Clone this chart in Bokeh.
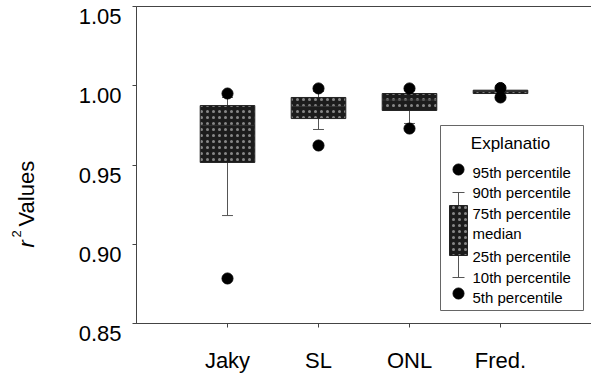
import math
from bokeh.plotting import figure
from bokeh.models import (FixedTicker, Label, ColumnDataSource, Range1d, LinearAxis,
                          CustomJSTickFormatter)
from bokeh.core.properties import value
from bokeh.embed import file_html
from bokeh.resources import INLINE

# ---------------- data ----------------
categories = ["Jaky", "SL", "ONL", "Fred."]
p5  = [0.8784, 0.9623, 0.9730, 0.9926]
p10 = [0.9181, 0.9724, 0.9762, 0.9940]
q1  = [0.9516, 0.9793, 0.9844, 0.9951]
med = [0.9750, 0.9870, 0.9910, 0.9965]
q3  = [0.9875, 0.9926, 0.9951, 0.9972]
p90 = [0.9926, 0.9965, 0.9970, 0.9980]
p95 = [0.9951, 0.9983, 0.9983, 0.9986]
y_ticks = [0.85, 0.90, 0.95, 1.00, 1.05]
y_tick_labels = ["0.85", "0.90", "0.95", "1.00", "1.05"]
legend_title = "Explanatio"
legend_labels = ["95th percentile", "90th percentile", "75th percentile", "median",
                 "25th percentile", "10th percentile", "5th percentile"]

# ---------------- geometry ----------------
FONT = "Liberation Sans"
W, H = 591, 378
LEFT, TOP, PW, PH = 136, 6, 455, 317      # plotting area in pixels
X0, X1 = 0.0, 5.0
Y0, Y1 = 0.85, 1.05

def px2x(px):
    return X0 + (px - LEFT) / PW * (X1 - X0)

def py2y(py):
    return Y1 - (py - TOP) / PH * (Y1 - Y0)

D = 10 / PH * (Y1 - Y0)   # tick labels sit ~10 px below their ticks in the reference

xs = list(range(1, len(categories) + 1))

p = figure(width=W, height=H, x_range=Range1d(px2x(0), px2x(W)),
           y_range=Range1d(py2y(H), py2y(0)),
           x_axis_type=None, y_axis_type=None,
           output_backend="svg", toolbar_location=None, min_border=0)
p.extra_y_ranges = {"lab": Range1d(py2y(H) + D, py2y(0) + D)}
p.grid.visible = False
p.outline_line_color = None
p.background_fill_color = "white"
p.border_fill_color = "white"

AX = "#444444"
# y axis: line + ticks
yax = LinearAxis(fixed_location=X0, ticker=FixedTicker(ticks=y_ticks), bounds=(Y0, Y1),
                 formatter=CustomJSTickFormatter(code="return ''"),
                 major_tick_out=4, major_tick_in=0, minor_tick_line_color=None,
                 axis_line_color=AX, major_tick_line_color=AX)
p.add_layout(yax, "left")
# y axis: labels
ylab = LinearAxis(fixed_location=X0, y_range_name="lab", ticker=FixedTicker(ticks=y_ticks),
                  major_label_overrides={t: s for t, s in zip(y_ticks, y_tick_labels)},
                  major_tick_out=0, major_tick_in=0, major_tick_line_color=None,
                  minor_tick_line_color=None, axis_line_color=None,
                  major_label_standoff=15, major_label_text_font=FONT,
                  major_label_text_font_size="22px", major_label_text_color="black")
p.add_layout(ylab, "left")
# x axis
xax = LinearAxis(fixed_location=Y0, ticker=FixedTicker(ticks=xs), bounds=(X0, X1),
                 major_label_overrides={x: c for x, c in zip(xs, categories)},
                 major_tick_out=4, major_tick_in=0, minor_tick_line_color=None,
                 axis_line_color=AX, major_tick_line_color=AX,
                 major_label_standoff=20, major_label_text_font=FONT,
                 major_label_text_font_size="22px", major_label_text_color="black")
p.add_layout(xax, "below")
# plot border
p.quad(left=[X0], right=[X1], bottom=[Y0], top=[Y1], fill_color=None, line_color=AX,
       line_width=1)

# y axis title: r^2 Values
p.add_layout(Label(x=px2x(26), y=py2y(247), text="r", angle=math.pi / 2, text_align="left",
                   text_baseline="alphabetic", text_font=FONT, text_font_style="italic",
                   text_font_size="22px", text_color="black"))
p.add_layout(Label(x=px2x(16), y=py2y(237), text="2", angle=math.pi / 2, text_align="left",
                   text_baseline="alphabetic", text_font=FONT,
                   text_font_size="13px", text_color="black"))
p.add_layout(Label(x=px2x(26), y=py2y(226), text="Values", angle=math.pi / 2, text_align="left",
                   text_baseline="alphabetic", text_font=FONT,
                   text_font_size="22px", text_color="black"))

# ---------------- box plots ----------------
src = ColumnDataSource(dict(x=xs, p5=p5, p10=p10, q1=q1, med=med, q3=q3, p90=p90, p95=p95,
                            xl=[x - 0.06 for x in xs], xr=[x + 0.06 for x in xs],
                            bl=[x - 0.3 for x in xs], br=[x + 0.3 for x in xs]))
WH = "#555555"
p.segment(x0="x", y0="q3", x1="x", y1="p90", source=src, line_color=WH, line_width=1)
p.segment(x0="x", y0="q1", x1="x", y1="p10", source=src, line_color=WH, line_width=1)
p.segment(x0="xl", y0="p90", x1="xr", y1="p90", source=src, line_color=WH, line_width=1)
p.segment(x0="xl", y0="p10", x1="xr", y1="p10", source=src, line_color=WH, line_width=1)
BOX = dict(fill_color="#1c1c1c", line_color="#222222", line_width=1,
           hatch_pattern="dot", hatch_color="#cfcfcf", hatch_alpha=0.6,
           hatch_scale=6, hatch_weight=1.2)
p.vbar(x="x", width=0.6, top="q3", bottom="q1", source=src, **BOX)
p.segment(x0="bl", y0="med", x1="br", y1="med", source=src, line_color="#333333", line_width=1)
p.scatter(x="x", y="p95", source=src, size=11, color="black")
p.scatter(x="x", y="p5", source=src, size=11, color="black")

# ---------------- explanation (legend) ----------------
p.quad(left=[px2x(440)], right=[px2x(583)], top=[py2y(125)], bottom=[py2y(310)],
       fill_color="white", line_color="#666666", line_width=1)
p.text(x=[px2x(510)], y=[py2y(143)], text=[legend_title], text_align="center",
       text_baseline="middle", text_font=value(FONT), text_font_size="17px", text_color="black")
lx = px2x(458)
p.segment(x0=[lx, lx], y0=[py2y(205), py2y(255)], x1=[lx, lx], y1=[py2y(192), py2y(277)],
          line_color=WH, line_width=1)
p.segment(x0=[px2x(452), px2x(452)], y0=[py2y(192), py2y(277)],
          x1=[px2x(464), px2x(464)], y1=[py2y(192), py2y(277)], line_color=WH, line_width=1)
p.quad(left=[px2x(449)], right=[px2x(467)], top=[py2y(205)], bottom=[py2y(255)], **BOX)
p.scatter(x=[lx, lx], y=[py2y(169), py2y(293)], size=11, color="black")
leg_y = [py2y(v) for v in (172, 192, 213, 233, 256, 277, 297)]
p.text(x=[px2x(472)] * len(legend_labels), y=leg_y, text=legend_labels, text_align="left",
       text_baseline="middle", text_font=value(FONT), text_font_size="15px", text_color="black")

open("out.html", "w").write(file_html(p, INLINE))
